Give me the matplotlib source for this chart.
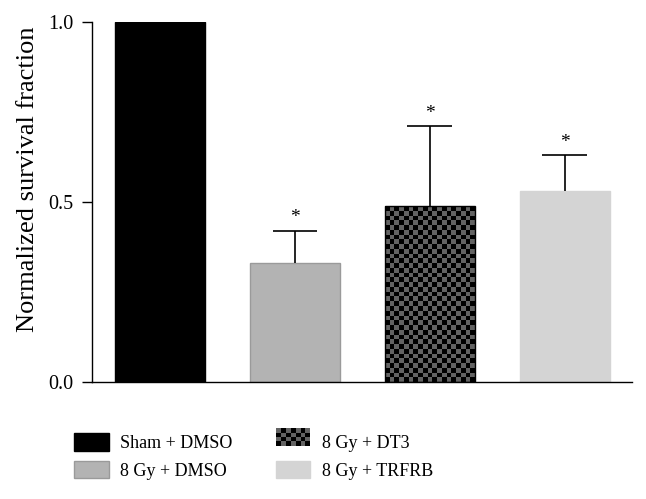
import numpy as np
import matplotlib
matplotlib.use("Agg")
import matplotlib.pyplot as plt
from matplotlib.patches import Rectangle
from matplotlib.legend_handler import HandlerBase

plt.rcParams["font.family"] = ["Liberation Serif", "DejaVu Serif"]

groups = ["Sham + DMSO", "8 Gy + DMSO", "8 Gy + DT3", "8 Gy + TRFRB"]
means = [1.00, 0.33, 0.49, 0.53]
errs = [0.00, 0.09, 0.22, 0.10]
stars = ["", "*", "*", "*"]

FACES = ["#000000", "#b3b3b3", None, "#d4d4d4"]
EDGES = ["#000000", "#9a9a9a", "#000000", "#d4d4d4"]
CHK_A, CHK_B = "#000000", "#636363"


def checker_fill(ax, bar, ncols=19):
    """Fill a bar with a checkerboard image clipped to the bar patch."""
    x0, w, h = bar.get_x(), bar.get_width(), bar.get_height()
    px = ax.transData.transform([(0, 0), (w, h)])     # keep squares square on screen
    sq_px = (px[1, 0] - px[0, 0]) / ncols
    rows_f = (px[1, 1] - px[0, 1]) / sq_px
    nrows = int(np.ceil(rows_f)) + 1
    sq_y = h / rows_f
    arr = (np.add.outer(np.arange(nrows), np.arange(ncols)) % 2).astype(float)
    cmap = matplotlib.colors.ListedColormap([CHK_A, CHK_B])
    im = ax.imshow(arr, cmap=cmap, origin="lower", interpolation="nearest",
                   extent=(x0, x0 + w, 0, nrows * sq_y), aspect="auto", zorder=2)
    im.set_clip_path(bar)


class CheckerHandler(HandlerBase):
    def create_artists(self, legend, orig, xd, yd, width, height, fontsize, trans):
        nc, nr = 7, 4
        sw, sh = width / nc, height / nr
        arts = []
        for i in range(nr):
            for j in range(nc):
                c = CHK_A if (i + j) % 2 == 0 else CHK_B
                arts.append(Rectangle((xd + j * sw, yd + i * sh), sw, sh, facecolor=c,
                                      edgecolor="none", transform=trans))
        return arts


fig = plt.figure(figsize=(6.46, 4.99), dpi=100)
ax = fig.add_axes([92 / 646, 1 - 382 / 499, (632 - 92) / 646, 360 / 499])

x = np.arange(len(groups))
bars = ax.bar(x, means, width=0.667, color=[f if f else "white" for f in FACES],
              edgecolor=EDGES, linewidth=1.0, zorder=2)
ax.set_xlim(-0.504, 3.5)
ax.set_ylim(0, 1.0)
checker_fill(ax, bars[2])
bars[2].set_facecolor("none")
bars[2].set_zorder(3)

# upper-only error bars with a cap
cap = 0.33
for xi, m, e, s in zip(x, means, errs, stars):
    if e > 0:
        ax.vlines(xi, m, m + e, color="black", lw=1.2, zorder=4)
        ax.hlines(m + e, xi - cap / 2, xi + cap / 2, color="black", lw=1.2, zorder=4)
    if s:
        ax.text(xi, m + e + 0.012, s, ha="center", va="bottom", fontsize=14)

ax.set_yticks([0.0, 0.5, 1.0])
ax.set_yticklabels(["0.0", "0.5", "1.0"], fontsize=14.5)
ax.set_xticks([])
ax.tick_params(axis="y", direction="out", length=7, width=1.0, pad=6.5)
for s in ("top", "right"):
    ax.spines[s].set_visible(False)
for s in ("left", "bottom"):
    ax.spines[s].set_linewidth(1.0)
ax.set_ylabel("Normalized survival fraction", fontsize=19)
ax.yaxis.set_label_coords(-0.098, 0.564)

handles = [Rectangle((0, 0), 1, 1, facecolor=FACES[0], edgecolor=EDGES[0]),
           Rectangle((0, 0), 1, 1, facecolor=FACES[1], edgecolor=EDGES[1]),
           Rectangle((0, 0), 1, 1, facecolor="none"),
           Rectangle((0, 0), 1, 1, facecolor=FACES[3], edgecolor=EDGES[3])]
fig.legend(handles, groups, ncol=2, frameon=False, fontsize=13,
           loc="upper left", bbox_to_anchor=(58 / 646, 1 - 417 / 499),
           handlelength=1.9, handleheight=1.1, handletextpad=0.65,
           columnspacing=2.4, labelspacing=0.5,
           handler_map={handles[2]: CheckerHandler()})

fig.savefig("out.png", dpi=100)
